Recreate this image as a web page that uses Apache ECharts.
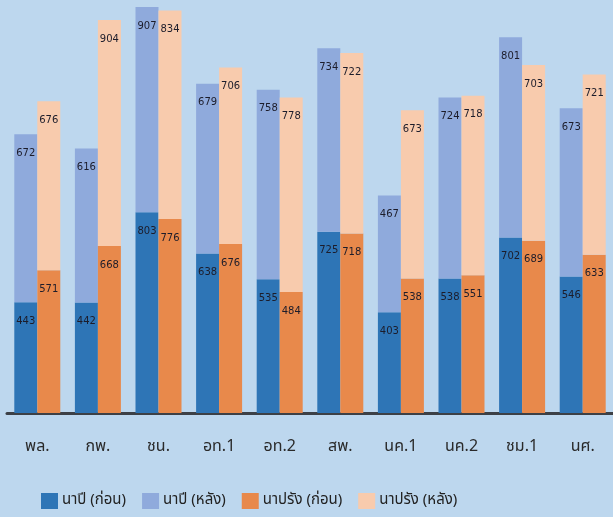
<!DOCTYPE html>
<html>
<head>
<meta charset="utf-8">
<script src="https://cdn.jsdelivr.net/npm/echarts@6/dist/echarts.min.js"></script>
<style>
html,body{margin:0;padding:0;background:#BDD7EE;}
#c{width:613px;height:517px;}
</style>
</head>
<body>
<div id="c"></div>
<script>
const categories = ['พล.', 'กพ.', 'ชน.', 'อท.1', 'อท.2', 'สพ.', 'นค.1', 'นค.2', 'ชม.1', 'นศ.'];
const seriesNames = ['นาปี (ก่อน)', 'นาปี (หลัง)', 'นาปรัง (ก่อน)', 'นาปรัง (หลัง)'];
const napiBefore = [443, 442, 803, 638, 535, 725, 403, 538, 702, 546];
const napiAfter = [672, 616, 907, 679, 758, 734, 467, 724, 801, 673];
const naprangBefore = [571, 668, 776, 676, 484, 718, 538, 551, 689, 633];
const naprangAfter = [676, 904, 834, 706, 778, 722, 673, 718, 703, 721];

const colors = ['#2E75B6', '#8FAADC', '#E8894B', '#F8CBAD'];
const font = 'Tahoma, "Noto Sans Thai", "Noto Sans", "DejaVu Sans", sans-serif';

function mk(name, data, stack, color) {
  return {
    name: name, type: 'bar', stack: stack, data: data,
    barWidth: 23, barGap: '0%', clip: true,
    itemStyle: { color: color },
    label: { show: true, position: 'insideTop', distance: 14, color: '#1c1c2a', fontSize: 10, fontFamily: 'Tahoma, "DejaVu Sans", sans-serif' }
  };
}

const chart = echarts.init(document.getElementById('c'));
chart.setOption({
  backgroundColor: '#BDD7EE',
  animation: false,
  grid: { left: 7, width: 613, top: 7, bottom: 104 },
  xAxis: {
    type: 'category', data: categories,
    axisLine: { lineStyle: { color: '#3C4046', width: 3 } },
    axisTick: { show: false },
    axisLabel: { color: '#2a2a2a', fontSize: 16, margin: 27, fontFamily: font }
  },
  yAxis: { type: 'value', min: 0, max: 1624, show: false, splitLine: { show: false } },
  legend: {
    left: 36, top: 488, itemWidth: 17, itemHeight: 16, itemGap: 16,
    icon: 'rect',
    textStyle: { color: '#222', fontSize: 15, fontFamily: font, padding: [0, 0, 0, -1] },
    data: seriesNames
  },
  series: [
    mk(seriesNames[0], napiBefore, 'a', colors[0]),
    mk(seriesNames[1], napiAfter, 'a', colors[1]),
    mk(seriesNames[2], naprangBefore, 'b', colors[2]),
    mk(seriesNames[3], naprangAfter, 'b', colors[3])
  ]
});
</script>
</body>
</html>
